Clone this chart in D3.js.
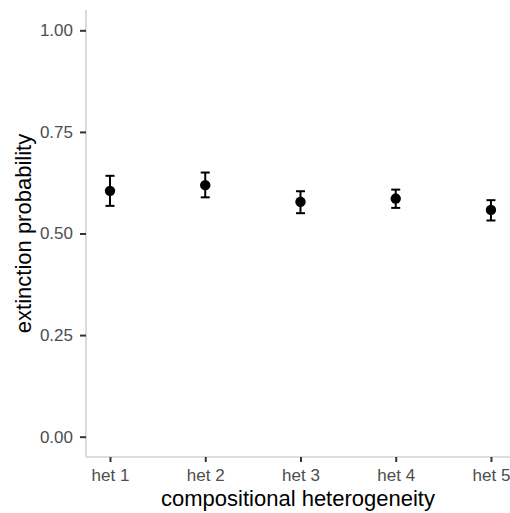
<!DOCTYPE html>
<html>
<head>
<meta charset="utf-8">
<script src="https://cdn.jsdelivr.net/npm/d3@7"></script>
<style>
  body { margin: 0; background: #fff; }
  text { font-family: "Liberation Sans", Arial, sans-serif; }
</style>
</head>
<body>
<div id="chart"></div>
<script>
// data
const categories = ["het 1", "het 2", "het 3", "het 4", "het 5"];
const means = [0.605, 0.619, 0.578, 0.586, 0.558];
const lower = [0.568, 0.589, 0.550, 0.563, 0.532];
const upper = [0.642, 0.650, 0.604, 0.608, 0.582];
const yTicks = [0, 0.25, 0.5, 0.75, 1];

const W = 510, H = 513;
const margin = {top: 10, right: 0, bottom: 56, left: 86};
const width = W - margin.left - margin.right;
const height = H - margin.top - margin.bottom;

const data = categories.map((c, i) => ({name: c, idx: i + 1, mean: means[i], lo: lower[i], hi: upper[i]}));

const svg = d3.select("#chart").append("svg")
    .attr("width", W)
    .attr("height", H);

const g = svg.append("g")
    .attr("transform", `translate(${margin.left},${margin.top})`);

// scales
const x = d3.scaleLinear()
    .domain([0.748, 5.2])
    .range([0, width]);
const y = d3.scaleLinear()
    .domain([-0.05, 1.05])
    .range([height, 0]);

// y axis
const yAxis = g.append("g")
    .call(d3.axisLeft(y).tickValues(yTicks).tickFormat(d3.format(".2f")).tickSize(6).tickPadding(7));
yAxis.select(".domain").attr("stroke", "#bdbdbd").attr("stroke-width", 1.1)
    .attr("d", `M0,${height}V0`);
yAxis.selectAll(".tick line").attr("stroke", "#333").attr("stroke-width", 2);
yAxis.selectAll(".tick text").attr("fill", "#4d4d4d").style("font-size", "17px");

// x axis
const xAxis = g.append("g")
    .attr("transform", `translate(0,${height})`)
    .call(d3.axisBottom(x).tickValues(data.map(d => d.idx)).tickFormat((d, i) => categories[i]).tickSize(5).tickPadding(6.5));
xAxis.select(".domain").attr("stroke", "#bdbdbd").attr("stroke-width", 1.1)
    .attr("d", `M0,0H${width}`);
xAxis.selectAll(".tick line").attr("stroke", "#333").attr("stroke-width", 2);
xAxis.selectAll(".tick text").attr("fill", "#4d4d4d").style("font-size", "17px");

// error bars
const capW = 4.5;
const eb = g.selectAll(".eb")
    .data(data)
    .enter()
    .append("g")
    .attr("class", "eb");
eb.append("line")
    .attr("x1", d => x(d.idx)).attr("x2", d => x(d.idx))
    .attr("y1", d => y(d.lo)).attr("y2", d => y(d.hi))
    .attr("stroke", "#000").attr("stroke-width", 2);
eb.append("line")
    .attr("x1", d => x(d.idx) - capW).attr("x2", d => x(d.idx) + capW)
    .attr("y1", d => y(d.hi)).attr("y2", d => y(d.hi))
    .attr("stroke", "#000").attr("stroke-width", 2);
eb.append("line")
    .attr("x1", d => x(d.idx) - capW).attr("x2", d => x(d.idx) + capW)
    .attr("y1", d => y(d.lo)).attr("y2", d => y(d.lo))
    .attr("stroke", "#000").attr("stroke-width", 2);

// points
g.selectAll(".pt")
    .data(data)
    .enter()
    .append("circle")
    .attr("class", "pt")
    .attr("cx", d => x(d.idx))
    .attr("cy", d => y(d.mean))
    .attr("r", 5.2)
    .attr("fill", "#000");

// axis titles
svg.append("text")
    .attr("x", margin.left + width / 2)
    .attr("y", 506)
    .attr("text-anchor", "middle")
    .style("font-size", "22px")
    .attr("fill", "#000")
    .text("compositional heterogeneity");

svg.append("text")
    .attr("transform", `translate(31,${margin.top + height / 2})rotate(-90)`)
    .attr("text-anchor", "middle")
    .style("font-size", "22px")
    .attr("fill", "#000")
    .text("extinction probability");
</script>
</body>
</html>
